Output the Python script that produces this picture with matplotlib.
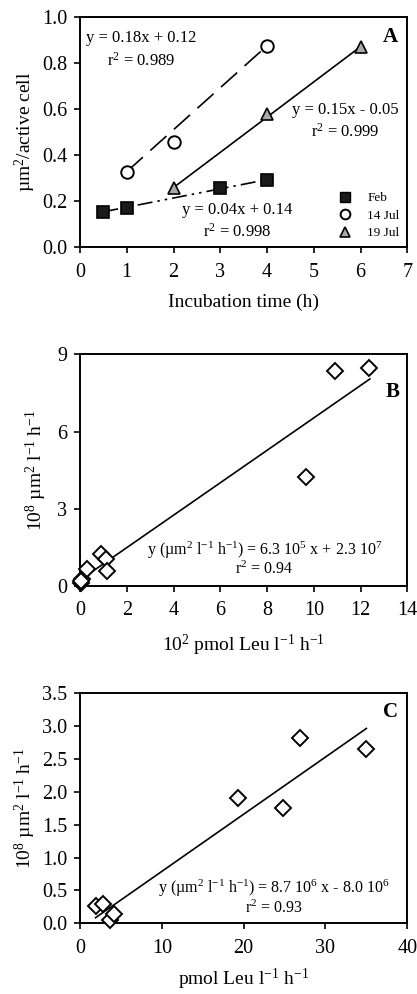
import numpy as np
import matplotlib
matplotlib.use("Agg")
import matplotlib.pyplot as plt
from matplotlib.lines import Line2D

plt.rcParams['font.family'] = ['Liberation Serif', 'DejaVu Serif']
plt.rcParams['mathtext.fontset'] = 'custom'
plt.rcParams['mathtext.rm'] = 'Liberation Serif'
plt.rcParams['mathtext.it'] = 'Liberation Serif:italic'
plt.rcParams['mathtext.default'] = 'regular'

# ---------------- Data ----------------
# Panel A
feb_x = [0.5, 1.0, 3.0, 4.0]
feb_y = [0.155, 0.172, 0.256, 0.292]
jul14_x = [1.0, 2.0, 4.0]
jul14_y = [0.328, 0.458, 0.874]
jul19_x = [2.0, 4.0, 6.0]
jul19_y = [0.259, 0.578, 0.870]
series_labels = ["Feb", "14 Jul", "19 Jul"]

# Panel B (x: 10^2 pmol Leu l-1 h-1, y: 10^8 um2 l-1 h-1)
b_x = [0.03, 0.08, 0.3, 0.9, 1.1, 1.15, 0.05, 9.67, 10.9, 12.36]
b_y = [0.12, 0.28, 0.65, 1.25, 1.03, 0.6, 0.2, 4.25, 8.35, 8.48]
b_slope, b_intercept = 0.63, 0.23
b_line_x = [0.0, 12.4]

# Panel C (x: pmol Leu l-1 h-1, y: 10^8 um2 l-1 h-1)
c_x = [1.9, 2.8, 3.7, 4.15, 19.3, 24.8, 26.9, 35.0]
c_y = [0.26, 0.29, 0.05, 0.14, 1.91, 1.75, 2.82, 2.65]
c_slope, c_intercept = 0.087, -0.08
c_line_x = [1.9, 35.0]

# ---------------- Figure ----------------
fig = plt.figure(figsize=(4.17, 9.94), dpi=100)
W, H = 417, 994

def make_ax(left, right, top, bottom):
    return fig.add_axes([left / W, 1 - bottom / H, (right - left) / W, (bottom - top) / H])

axA = make_ax(80, 407.3, 16.7, 247.3)
axB = make_ax(80, 407.3, 354.3, 586)
axC = make_ax(80, 407.3, 693.3, 923.3)

tick_fs = 14.5
label_fs = 14
ann_fs = 11.5

for ax in (axA, axB, axC):
    for sp in ax.spines.values():
        sp.set_linewidth(1.4)
    ax.tick_params(direction='out', length=4, width=1.2, labelsize=tick_fs,
                   top=False, right=False)
    ax.tick_params(axis='x', pad=7)
    ax.tick_params(axis='y', pad=5)

# ---- Panel A ----
ax = axA
ax.plot(feb_x, np.poly1d(np.polyfit(feb_x, feb_y, 1))(feb_x), color='black', lw=1.2,
        dashes=(9, 3, 1.5, 3, 1.5, 3), zorder=2)
ax.plot([jul14_x[0], jul14_x[-1]], [jul14_y[0], jul14_y[-1]], color='black', lw=1.2,
        dashes=(13, 6), zorder=2)
ax.plot([jul19_x[0], jul19_x[-1]], [jul19_y[0], jul19_y[-1]], color='black', lw=1.2, zorder=2)
ax.plot(feb_x, feb_y, 's', ms=9, mfc='#1a1a1a', mec='black', mew=1.2, ls='none', zorder=3)
ax.plot(jul14_x, jul14_y, 'o', ms=9, mfc='white', mec='black', mew=1.4, ls='none', zorder=3)
ax.plot(jul19_x, jul19_y, '^', ms=9, mfc='#a8a8a8', mec='black', mew=1.2, ls='none', zorder=3)

ax.set_xlim(0, 7)
ax.set_ylim(0, 1.0)
ax.set_xticks(range(0, 8))
ax.set_yticks(np.arange(0, 1.01, 0.2))
ax.set_yticklabels([f"{v:.1f}" for v in np.arange(0, 1.01, 0.2)])
ax.set_xlabel("Incubation time (h)", fontsize=label_fs, labelpad=9)
ax.set_ylabel("µm$^{2}$/active cell", fontsize=label_fs, labelpad=3)

a_fs = 12
ax.text(1.31, 0.906, "y = 0.18x + 0.12", ha='center', va='center', fontsize=a_fs)
ax.text(1.31, 0.81, "r$^{2}$ = 0.989", ha='center', va='center', fontsize=a_fs)
ax.text(5.67, 0.595, "y = 0.15x - 0.05", ha='center', va='center', fontsize=a_fs)
ax.text(5.67, 0.50, "r$^{2}$ = 0.999", ha='center', va='center', fontsize=a_fs)
ax.text(3.36, 0.162, "y = 0.04x + 0.14", ha='center', va='center', fontsize=a_fs)
ax.text(3.36, 0.068, "r$^{2}$ = 0.998", ha='center', va='center', fontsize=a_fs)
ax.text(6.63, 0.913, "A", ha='center', va='center', fontsize=15, fontweight='bold')

handles = [
    Line2D([], [], marker='s', ls='none', ms=7, mfc='#1a1a1a', mec='black'),
    Line2D([], [], marker='o', ls='none', ms=7, mfc='white', mec='black', mew=1.4),
    Line2D([], [], marker='^', ls='none', ms=7, mfc='#a8a8a8', mec='black', mew=1.2),
]
ax.legend(handles, series_labels, loc='lower right', frameon=False, fontsize=9.5,
          handletextpad=1.0, labelspacing=0.4, borderaxespad=0.2, handlelength=1.4)

# ---- Panel B ----
ax = axB
bx = np.array(b_line_x)
ax.plot(bx, b_slope * bx + b_intercept, color='black', lw=1.2, zorder=2)
ax.plot(b_x, b_y, 'D', ms=8, mfc='white', mec='black', mew=1.4, ls='none', zorder=3,
        clip_on=False)
ax.set_xlim(0, 14)
ax.set_ylim(0, 9)
ax.set_xticks(range(0, 15, 2))
ax.set_yticks([0, 3, 6, 9])
ax.set_xlabel("10$^{2}$ pmol Leu l$^{-1}$ h$^{-1}$", fontsize=label_fs, labelpad=9)
ax.set_ylabel("10$^{8}$ µm$^{2}$ l$^{-1}$ h$^{-1}$", fontsize=label_fs, labelpad=6)
ax.text(7.89, 1.40, "y (µm$^{2}$ l$^{-1}$ h$^{-1}$) = 6.3 10$^{5}$ x + 2.3 10$^{7}$",
        ha='center', va='center', fontsize=ann_fs)
ax.text(7.89, 0.65, "r$^{2}$ = 0.94", ha='center', va='center', fontsize=ann_fs)
ax.text(13.36, 7.55, "B", ha='center', va='center', fontsize=15, fontweight='bold')

# ---- Panel C ----
ax = axC
cx = np.array(c_line_x)
ax.plot(cx, c_slope * cx + c_intercept, color='black', lw=1.2, zorder=2)
ax.plot(c_x, c_y, 'D', ms=8, mfc='white', mec='black', mew=1.4, ls='none', zorder=3,
        clip_on=False)
ax.set_xlim(0, 40)
ax.set_ylim(0, 3.5)
ax.set_xticks(range(0, 41, 10))
yt = np.arange(0, 3.51, 0.5)
ax.set_yticks(yt)
ax.set_yticklabels([f"{v:.1f}" for v in yt])
ax.set_xlabel("pmol Leu l$^{-1}$ h$^{-1}$", fontsize=label_fs, labelpad=7)
ax.set_ylabel("10$^{8}$ µm$^{2}$ l$^{-1}$ h$^{-1}$", fontsize=label_fs, labelpad=3)
ax.text(23.7, 0.53, "y (µm$^{2}$ l$^{-1}$ h$^{-1}$) = 8.7 10$^{6}$ x - 8.0 10$^{6}$",
        ha='center', va='center', fontsize=ann_fs)
ax.text(23.7, 0.23, "r$^{2}$ = 0.93", ha='center', va='center', fontsize=ann_fs)
ax.text(37.9, 3.22, "C", ha='center', va='center', fontsize=15, fontweight='bold')

fig.savefig("out.png", dpi=100)
